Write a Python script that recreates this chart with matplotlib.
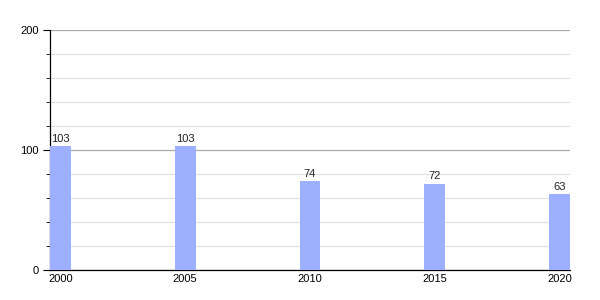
import matplotlib
matplotlib.use('Agg')
import matplotlib.pyplot as plt
from matplotlib.ticker import MultipleLocator

plt.rcParams['font.family'] = ['Liberation Sans', 'DejaVu Sans']

years = ['2000', '2005', '2010', '2015', '2020']
values = [103, 103, 74, 72, 63]

bar_w = 0.168

fig = plt.figure(figsize=(6, 3), dpi=100)
ax = fig.add_axes([50 / 600, 30 / 300, 520 / 600, 240 / 300])

pos = list(range(len(years)))
ax.bar(pos, values, width=bar_w, align='edge', color='#9cb0ff', zorder=3)

for x, v in zip(pos, values):
    ax.text(x + bar_w / 2, v + 2, str(v), ha='center', va='bottom', fontsize=8, color='#222222')

ax.set_xlim(0, len(years) - 1 + bar_w)
ax.set_ylim(0, 200)
ax.set_xticks([p + bar_w / 2 for p in pos])
ax.set_xticklabels(years)
ax.yaxis.set_major_locator(MultipleLocator(100))
ax.yaxis.set_minor_locator(MultipleLocator(20))

ax.grid(axis='y', which='major', color='#aaaaaa', lw=0.9, zorder=0)
ax.grid(axis='y', which='minor', color='#e2e2e2', lw=0.9, zorder=0)

ax.tick_params(axis='x', length=0, labelsize=8, pad=3)
ax.tick_params(axis='y', which='major', length=5, labelsize=8, pad=3)
ax.tick_params(axis='y', which='minor', length=3)

for side in ('top', 'right'):
    ax.spines[side].set_visible(False)
ax.spines['left'].set_linewidth(0.9)
ax.spines['bottom'].set_linewidth(0.9)

fig.savefig('out.png', dpi=100)
